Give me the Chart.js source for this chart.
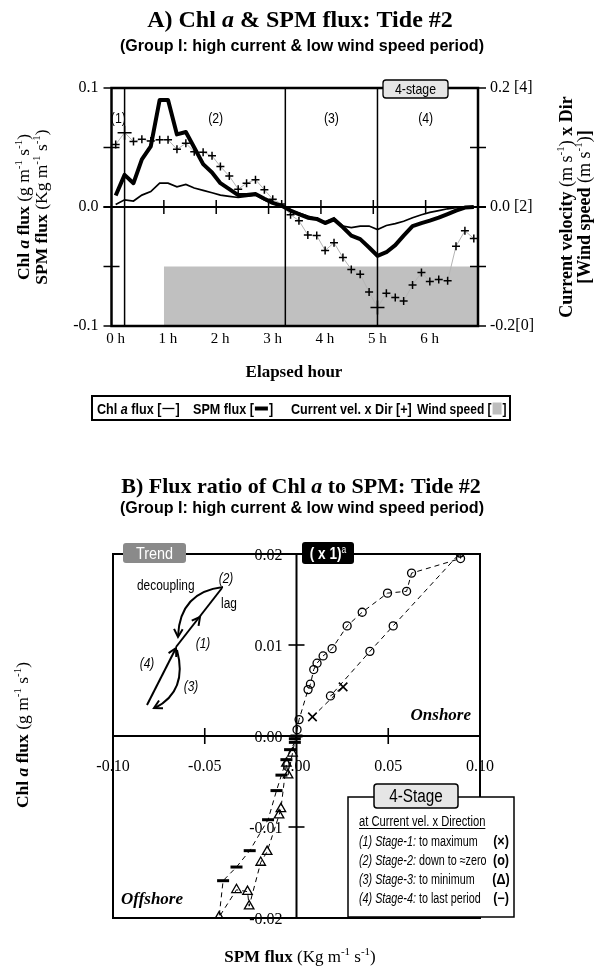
<!DOCTYPE html>
<html>
<head>
<meta charset="utf-8">
<script src="https://cdn.jsdelivr.net/npm/chart.js"></script>
<style>
html,body{margin:0;padding:0;background:#fff;}
#wrap{position:relative;width:602px;height:975px;background:#fff;}
canvas{position:absolute;left:0;}
</style>
</head>
<body>
<div id="wrap">
<canvas id="ca" width="602" height="430" style="top:0;width:602px;height:430px"></canvas>
<canvas id="cb" width="602" height="545" style="top:430px;width:602px;height:545px"></canvas>
</div>
<script>
// ---------------- DATA: panel A (time series, 10-min steps) ----------------
const hours = [0.08,0.25,0.42,0.58,0.75,0.92,1.08,1.25,1.42,1.58,1.75,1.92,2.08,2.25,2.42,2.58,2.75,2.92,3.08,3.25,
               3.42,3.58,3.75,3.92,4.08,4.25,4.42,4.58,4.75,4.92,5.08,5.25,5.42,5.58,5.75,5.92,6.08,6.25,6.42,6.58,6.75,6.92];
const spmFlux = [0.0096,0.027,0.020,0.040,0.051,0.090,0.090,0.061,0.063,0.050,0.036,0.029,0.020,0.015,0.010,0.010,0.011,0.007,0.0035,0.001,
                 -0.003,-0.006,-0.009,-0.010,-0.0135,-0.0105,-0.017,-0.024,-0.027,-0.034,-0.041,-0.038,-0.032,-0.024,-0.016,-0.0135,-0.0115,-0.009,-0.006,-0.003,-0.0005,0];
const chlFlux = [0.002,0.006,0.005,0.010,0.013,0.020,0.020,0.017,0.019,0.016,0.014,0.012,0.010,0.009,0.008,0.009,0.010,0.006,0.003,0.001,
                 -0.003,-0.005,-0.0077,-0.010,-0.0125,-0.009,-0.016,-0.0174,-0.016,-0.016,-0.019,-0.0155,-0.014,-0.012,-0.009,-0.0065,-0.0045,-0.003,-0.0015,-0.0005,0,0];
const curVelDir = [0.105,0.125,0.110,0.114,0.111,0.113,0.113,0.097,0.107,0.093,0.092,0.086,0.068,0.052,0.030,0.040,0.046,0.029,0.013,0.005,
                   -0.013,-0.023,-0.047,-0.048,-0.073,-0.060,-0.085,-0.105,-0.113,-0.143,-0.169,-0.145,-0.152,-0.158,-0.131,-0.110,-0.125,-0.122,-0.124,-0.066,-0.040,-0.053];
const bigCross = [1, 30];                 // max / min of current vel. x Dir
const windHours = [1, 7];
const windSpeed = [1, 1];                 // m s-1 (bracket scale [0]..[4])
const stageLines = [0.25, 3.32, 5.08];    // stage boundaries (h)
const stageLabels = ['(1)', '(2)', '(3)', '(4)'];
const stageLabelHours = [0.13, 1.99, 4.2, 6.0];
const hourTicks = [0, 1, 2, 3, 4, 5, 6];
const hourLabels = ['0 h', '1 h', '2 h', '3 h', '4 h', '5 h', '6 h'];
const leftTicks = [-0.1, 0, 0.1];
const leftLabels = ['-0.1', '0.0', '0.1'];
const rightTicks = [-0.2, 0, 0.2];
const rightLabels = ['-0.2[0]', '0.0 [2]', '0.2 [4]'];

// ---------------- DATA: panel B (Chl a flux vs SPM flux) ----------------
const stage1Spm = [0.0087, 0.0254];
const stage1Chl = [0.0021, 0.0054];
const stage2Spm = [0.0185,0.040,0.0527,0.0891,0.0894,0.0627,0.060,0.0496,0.0358,0.0276,0.0194,0.0145,0.0112,0.0094,0.0076,0.0063,0.0014,0.0003];
const stage2Chl = [0.0044,0.0093,0.0121,0.0201,0.0195,0.0179,0.0159,0.0157,0.0136,0.0121,0.0096,0.0088,0.0080,0.0073,0.0057,0.0051,0.0018,0.0007];
const stage3Spm = [-0.0022,-0.0046,-0.0055,-0.0085,-0.0095,-0.016,-0.0195,-0.0258,-0.0267,-0.0327,-0.0422];
const stage3Chl = [-0.0019,-0.0043,-0.0030,-0.0080,-0.0087,-0.0127,-0.0139,-0.0187,-0.0171,-0.0169,-0.0199];
const stage4Spm = [-0.040,-0.0327,-0.0255,-0.0155,-0.0109,-0.0082,-0.0055,-0.0035,-0.0009,-0.0009,0];
const stage4Chl = [-0.0159,-0.0144,-0.0126,-0.0092,-0.0060,-0.0043,-0.0026,-0.0015,-0.0007,-0.0003,0];
const xTicksB = [-0.10, -0.05, 0, 0.05, 0.10];
const xLabelsB = ['-0.10', '-0.05', '0.00', '0.05', '0.10'];
const yTicksB = [0.02, 0.01, 0, -0.01, -0.02];
const yLabelsB = ['0.02', '0.01', '0.00', '-0.01', '-0.02'];

// ---------------- helpers ----------------
const SERIF = 'Liberation Serif', SANS = 'Liberation Sans';
const F = (st, sz, fam) => `${st} ${sz}px "${fam}"`;
function rich(ctx, runs, x, y, o = {}) {
  const align = o.align || 'center', rot = o.rot || 0;
  ctx.save();
  ctx.textBaseline = 'alphabetic'; ctx.textAlign = 'left';
  let w = 0;
  for (const r of runs) { ctx.font = r.f; w += ctx.measureText(r.t).width; }
  const sx = o.fitW ? o.fitW / w : (o.sx || 1);
  ctx.translate(x, y); if (rot) ctx.rotate(rot); ctx.scale(sx, 1);
  ctx.fillStyle = o.color || '#000';
  let cx = align === 'center' ? -w / 2 : align === 'right' ? -w : 0;
  for (const r of runs) { ctx.font = r.f; ctx.fillText(r.t, cx, r.dy || 0); cx += ctx.measureText(r.t).width; }
  ctx.restore();
  return w * sx;
}
function ln(ctx, x1, y1, x2, y2) { ctx.beginPath(); ctx.moveTo(x1, y1); ctx.lineTo(x2, y2); ctx.stroke(); }
function rrect(ctx, x, y, w, h, r, fill, stroke, lw) {
  ctx.beginPath();
  if (ctx.roundRect) ctx.roundRect(x, y, w, h, r); else ctx.rect(x, y, w, h);
  if (fill) { ctx.fillStyle = fill; ctx.fill(); }
  if (stroke) { ctx.strokeStyle = stroke; ctx.lineWidth = lw || 1; ctx.stroke(); }
}
function head(ctx, x, y, ang, len = 8, sp = 0.5) {
  ctx.beginPath();
  ctx.moveTo(x - len * Math.cos(ang - sp), y - len * Math.sin(ang - sp));
  ctx.lineTo(x, y);
  ctx.lineTo(x - len * Math.cos(ang + sp), y - len * Math.sin(ang + sp));
  ctx.stroke();
}
const sup = (sz) => ({ t: '-1', f: F('normal', Math.round(sz * 0.62), SERIF), dy: -sz * 0.42 });
function chlTitle(sz) {
  return [{ t: 'Chl ', f: F('bold', sz, SERIF) }, { t: 'a', f: F('italic bold', sz, SERIF) }, { t: ' flux ', f: F('bold', sz, SERIF) },
          { t: '(g m', f: F('normal', sz, SERIF) }, sup(sz), { t: ' s', f: F('normal', sz, SERIF) }, sup(sz), { t: ')', f: F('normal', sz, SERIF) }];
}
function spmTitle(sz) {
  return [{ t: 'SPM flux ', f: F('bold', sz, SERIF) },
          { t: '(Kg m', f: F('normal', sz, SERIF) }, sup(sz), { t: ' s', f: F('normal', sz, SERIF) }, sup(sz), { t: ')', f: F('normal', sz, SERIF) }];
}

Chart.defaults.font.family = SERIF;
Chart.defaults.color = '#000';
Chart.defaults.animation = false;

// ---------------- Chart A ----------------
const ptsA = arr => hours.map((h, i) => ({ x: h, y: arr[i] }));
const plugA = {
  id: 'plugA',
  afterDatasetsDraw(chart) {
    const { ctx, chartArea: a, scales: { x, y, y2 } } = chart;
    ctx.save(); ctx.strokeStyle = '#000';
    ctx.lineWidth = 1.5;
    stageLines.forEach(h => { const px = x.getPixelForValue(h); ln(ctx, px, a.top, px, a.bottom); });
    const y0 = y.getPixelForValue(0);
    ctx.lineWidth = 2; ln(ctx, a.left - 8, y0, a.right + 8, y0);
    ctx.lineWidth = 1.5;
    hourTicks.slice(1).forEach(h => { const px = x.getPixelForValue(h); ln(ctx, px, y0 - 7, px, y0 + 7); });
    [-0.1, -0.05, 0, 0.05, 0.1].forEach(v => { const py = y.getPixelForValue(v); ln(ctx, a.left - 8, py, a.left + 8, py); });
    [-0.2, -0.1, 0, 0.1, 0.2].forEach(v => { const py = y2.getPixelForValue(v); ln(ctx, a.right - 8, py, a.right + 8, py); });
    ctx.lineWidth = 2.5;
    ctx.strokeRect(a.left, a.top, a.right - a.left, a.bottom - a.top);
    // stage labels
    stageLabels.forEach((s, i) => rich(ctx, [{ t: s, f: F('normal', 15, SANS) }], x.getPixelForValue(stageLabelHours[i]), y.getPixelForValue(0.075) + 5, { sx: 0.82 }));
    // 4-stage box
    rrect(ctx, 383, 80, 65, 18, 3, '#e6e6e6', '#000', 1.3);
    rich(ctx, [{ t: '4-stage', f: F('normal', 15, SANS) }], 415.5, 94, { sx: 0.82 });
    ctx.restore();
  },
  afterDraw(chart) {
    const { ctx } = chart;
    ctx.save();
    rich(ctx, [{ t: 'A) Chl ', f: F('bold', 24, SERIF) }, { t: 'a', f: F('italic bold', 24, SERIF) }, { t: ' & SPM flux: Tide #2', f: F('bold', 24, SERIF) }], 300, 27);
    rich(ctx, [{ t: '(Group I: high current & low wind speed period)', f: F('bold', 16, SANS) }], 302, 51, { fitW: 364 });
    rich(ctx, chlTitle(17.5), 29, 207, { rot: -Math.PI / 2 });
    rich(ctx, spmTitle(17.5), 47, 207, { rot: -Math.PI / 2 });
    rich(ctx, [{ t: 'Current velocity ', f: F('bold', 18, SERIF) }, { t: '(m s', f: F('normal', 18, SERIF) }, sup(18), { t: ') ', f: F('normal', 18, SERIF) }, { t: 'x Dir', f: F('bold', 18, SERIF) }], 572, 207, { rot: -Math.PI / 2 });
    rich(ctx, [{ t: '[Wind speed ', f: F('bold', 18, SERIF) }, { t: '(m s', f: F('normal', 18, SERIF) }, sup(18), { t: ')', f: F('normal', 18, SERIF) }, { t: ']', f: F('bold', 18, SERIF) }], 590, 207, { rot: -Math.PI / 2 });
    rich(ctx, [{ t: 'Elapsed hour', f: F('bold', 17, SERIF) }], 294, 377);
    // legend box
    ctx.strokeStyle = '#000'; ctx.lineWidth = 2;
    ctx.strokeRect(92, 396, 418, 24);
    const f = F('bold', 15, SANS), fi = F('italic bold', 15, SANS), o = { align: 'left', sx: 0.84 }, ly = 413.5;
    let lx = 97;
    lx += rich(ctx, [{ t: 'Chl ', f }, { t: 'a', f: fi }, { t: ' flux [', f }], lx, ly, o);
    ctx.lineWidth = 1.3; ln(ctx, lx + 1, ly - 5, lx + 13, ly - 5); lx += 14;
    rich(ctx, [{ t: ']', f }], lx, ly, o);
    lx = 193;
    lx += rich(ctx, [{ t: 'SPM flux [', f }], lx, ly, o);
    ctx.lineWidth = 4; ln(ctx, lx + 1, ly - 5, lx + 14, ly - 5); lx += 15;
    rich(ctx, [{ t: ']', f }], lx, ly, o);
    rich(ctx, [{ t: 'Current vel. x Dir [+]', f }], 291, ly, o);
    lx = 417;
    const ow = { align: 'left', sx: 0.8 };
    lx += rich(ctx, [{ t: 'Wind speed [', f }], lx, ly, ow);
    ctx.fillStyle = '#bdbdbd'; ctx.fillRect(lx + 1, ly - 11, 9, 12); lx += 11;
    rich(ctx, [{ t: ']', f }], lx, ly, ow);
    ctx.restore();
  }
};

new Chart(document.getElementById('ca'), {
  type: 'line',
  data: {
    datasets: [
      { label: 'SPM flux', data: ptsA(spmFlux), yAxisID: 'y', borderColor: '#000', borderWidth: 4, pointRadius: 0, order: 1, borderJoinStyle: 'round', tension: 0 },
      { label: 'Chl a flux', data: ptsA(chlFlux), yAxisID: 'y', borderColor: '#000', borderWidth: 1.7, pointRadius: 0, order: 2, tension: 0 },
      { label: 'Current vel. x Dir', data: ptsA(curVelDir), yAxisID: 'y2', borderColor: '#b4b4b4', borderWidth: 1, pointStyle: 'cross',
        pointRadius: hours.map((h, i) => bigCross.includes(i) ? 7 : 4), pointBorderColor: '#000', pointBorderWidth: 1.5, order: 3, tension: 0 },
      { label: 'Wind speed', data: windHours.map((h, i) => ({ x: h, y: (windSpeed[i] - 2) * 0.1 })), yAxisID: 'y2', fill: 'start',
        backgroundColor: '#c0c0c0', borderWidth: 0, pointRadius: 0, order: 4 }
    ]
  },
  options: {
    responsive: false, devicePixelRatio: 1, animation: false,
    layout: { padding: { top: 88, left: 0, right: 0, bottom: 0 } },
    plugins: { legend: { display: false }, tooltip: { enabled: false } },
    scales: {
      x: { type: 'linear', min: 0, max: 7, grid: { display: false, drawTicks: false }, border: { display: false },
           afterBuildTicks: s => { s.ticks = hourTicks.map(v => ({ value: v })); },
           afterFit: s => { s.height = 104; },
           ticks: { callback: (v, i) => hourLabels[i], font: { family: SERIF, size: 15 }, color: '#000', padding: 4, labelOffset: 4, maxRotation: 0, autoSkip: false } },
      y: { position: 'left', min: -0.1, max: 0.1, grid: { display: false, drawTicks: false }, border: { display: false },
           afterBuildTicks: s => { s.ticks = leftTicks.map(v => ({ value: v })); },
           afterFit: s => { s.width = 111.5; },
           ticks: { callback: (v, i) => leftLabels[i], font: { family: SERIF, size: 16 }, color: '#000', padding: 13 } },
      y2: { position: 'right', min: -0.2, max: 0.2, grid: { display: false, drawTicks: false }, border: { display: false },
            afterBuildTicks: s => { s.ticks = rightTicks.map(v => ({ value: v })); },
            afterFit: s => { s.width = 124; },
            ticks: { callback: (v, i) => rightLabels[i], font: { family: SERIF, size: 16 }, color: '#000', padding: 12 } }
    }
  },
  plugins: [plugA]
});

// ---------------- Chart B ----------------
const pairs = (xs, ys) => xs.map((v, i) => ({ x: v, y: ys[i] }));
const pathB = [...pairs(stage1Spm, stage1Chl), ...pairs(stage2Spm, stage2Chl), ...pairs(stage3Spm, stage3Chl), ...pairs(stage4Spm, stage4Chl)];
const OFF = 430;
const plugB = {
  id: 'plugB',
  beforeDatasetsDraw(chart) {
    const { ctx, chartArea: a, scales: { x, y } } = chart;
    ctx.save(); ctx.strokeStyle = '#000';
    const x0 = x.getPixelForValue(0), y0 = y.getPixelForValue(0);
    ctx.lineWidth = 2;
    ctx.strokeRect(a.left, a.top, a.right - a.left, a.bottom - a.top);
    ln(ctx, a.left, y0, a.right, y0);
    ln(ctx, x0, a.top, x0, a.bottom);
    ctx.lineWidth = 1.6;
    [-0.05, 0.05].forEach(v => { const px = x.getPixelForValue(v); ln(ctx, px, y0 - 8, px, y0 + 8); });
    [-0.01, 0.01].forEach(v => { const py = y.getPixelForValue(v); ln(ctx, x0 - 8, py, x0 + 8, py); });
    ctx.fillStyle = '#000';
    xTicksB.forEach((v, i) => rich(ctx, [{ t: xLabelsB[i], f: F('normal', 16, SERIF) }], x.getPixelForValue(v), y0 + 35));
    yTicksB.forEach((v, i) => rich(ctx, [{ t: yLabelsB[i], f: F('normal', 16, SERIF) }], x0 - 14, y.getPixelForValue(v) + 5.5, { align: 'right' }));
    ctx.restore();
  },
  afterDraw(chart) {
    const { ctx } = chart;
    ctx.save(); ctx.translate(0, -OFF); ctx.strokeStyle = '#000'; ctx.fillStyle = '#000';
    rich(ctx, [{ t: 'B) Flux ratio of Chl ', f: F('bold', 22, SERIF) }, { t: 'a', f: F('italic bold', 22, SERIF) }, { t: ' to SPM: Tide #2', f: F('bold', 22, SERIF) }], 301, 493);
    rich(ctx, [{ t: '(Group I: high current & low wind speed period)', f: F('bold', 16, SANS) }], 302, 513, { fitW: 364 });
    rich(ctx, chlTitle(17.5), 28, 735, { rot: -Math.PI / 2 });
    rich(ctx, spmTitle(17), 300, 962);
    // Trend box
    rrect(ctx, 123, 543, 63, 20, 3, '#8a8a8a', null);
    rich(ctx, [{ t: 'Trend', f: F('normal', 17, SANS) }], 154.5, 559, { sx: 0.85, color: '#fff' });
    // (x 1)a box
    rrect(ctx, 302, 542, 52, 22, 3, '#000', null);
    rich(ctx, [{ t: '( x 1)', f: F('bold', 16, SANS) }, { t: 'a', f: F('normal', 10, SANS), dy: -6 }], 328, 559, { sx: 0.85, color: '#fff' });
    // trend diagram
    const ft = F('normal', 14, SANS), fit = F('italic', 14, SANS);
    rich(ctx, [{ t: 'decoupling', f: ft }], 137, 590, { align: 'left', sx: 0.85 });
    rich(ctx, [{ t: '(2)', f: fit }], 226, 583, { sx: 0.85 });
    rich(ctx, [{ t: 'lag', f: ft }], 221, 608, { align: 'left', sx: 0.85 });
    rich(ctx, [{ t: '(1)', f: fit }], 203, 648, { sx: 0.85 });
    rich(ctx, [{ t: '(4)', f: fit }], 147, 668, { sx: 0.85 });
    rich(ctx, [{ t: '(3)', f: fit }], 191, 691, { sx: 0.85 });
    ctx.lineWidth = 2;
    ctx.beginPath(); ctx.moveTo(223, 587); ctx.quadraticCurveTo(180, 592, 178, 636); ctx.stroke();
    head(ctx, 178, 637, Math.atan2(636 - 592, 178 - 180), 9);
    ln(ctx, 176, 647, 222, 588);
    head(ctx, 200, 617, Math.atan2(588 - 647, 222 - 176), 9);
    ln(ctx, 147, 705, 176, 648);
    head(ctx, 176, 648, Math.atan2(648 - 705, 176 - 147), 9);
    ctx.beginPath(); ctx.moveTo(177, 650); ctx.quadraticCurveTo(188, 691, 155, 708); ctx.stroke();
    head(ctx, 154, 708, Math.atan2(708 - 691, 155 - 188), 9);
    // quadrant labels
    rich(ctx, [{ t: 'Onshore', f: F('italic bold', 17, SERIF) }], 471, 720, { align: 'right' });
    rich(ctx, [{ t: 'Offshore', f: F('italic bold', 17, SERIF) }], 121, 904, { align: 'left' });
    // legend
    ctx.fillStyle = '#fff'; ctx.fillRect(348, 797, 166, 120);
    ctx.lineWidth = 1.5; ctx.strokeStyle = '#000'; ctx.strokeRect(348, 797, 166, 120);
    rrect(ctx, 374, 784, 84, 24, 3, '#e6e6e6', '#000', 1.5);
    rich(ctx, [{ t: '4-Stage', f: F('normal', 18, SANS) }], 416, 802, { sx: 0.85 });
    const fr = F('normal', 14, SANS), fil = F('italic', 14, SANS), fb = F('bold', 14, SANS), lo = { align: 'left', sx: 0.77 };
    const hw = rich(ctx, [{ t: 'at Current vel. x Direction', f: fr }], 359, 826, { align: 'left', sx: 0.8 });
    ctx.lineWidth = 1; ln(ctx, 359, 828.5, 359 + hw, 828.5);
    const rows = [['(1) Stage-1:', ' to maximum', '(×)'], ['(2) Stage-2:', ' down to ≈zero', '(o)'], ['(3) Stage-3:', ' to minimum', '(Δ)'], ['(4) Stage-4:', ' to last period', '(−)']];
    const rowY = [846, 865, 884, 903];
    rows.forEach((r, i) => {
      rich(ctx, [{ t: r[0], f: fil }, { t: r[1], f: fr }], 359, rowY[i], lo);
      rich(ctx, [{ t: r[2], f: fb }], 501, rowY[i], { sx: 0.9 });
    });
    ctx.restore();
  }
};

new Chart(document.getElementById('cb'), {
  type: 'scatter',
  data: {
    datasets: [
      { label: 'path', data: pathB, showLine: true, borderColor: '#000', borderWidth: 1, borderDash: [5, 4], pointRadius: 0, order: 5 },
      { label: 'Stage-1', data: pairs(stage1Spm, stage1Chl), pointStyle: 'crossRot', pointRadius: 6, borderColor: '#000', pointBorderWidth: 1.6, backgroundColor: 'rgba(0,0,0,0)', order: 1 },
      { label: 'Stage-2', data: pairs(stage2Spm, stage2Chl), pointStyle: 'circle', pointRadius: 4, borderColor: '#000', pointBorderWidth: 1.3, backgroundColor: 'rgba(0,0,0,0)', order: 2 },
      { label: 'Stage-3', data: pairs(stage3Spm, stage3Chl), pointStyle: 'triangle', pointRadius: 5.5, borderColor: '#000', pointBorderWidth: 1.3, backgroundColor: 'rgba(0,0,0,0)', order: 3 },
      { label: 'Stage-4', data: pairs(stage4Spm, stage4Chl), pointStyle: 'line', pointRadius: 6, borderColor: '#000', pointBorderWidth: 3, backgroundColor: 'rgba(0,0,0,0)', order: 4 }
    ]
  },
  options: {
    responsive: false, devicePixelRatio: 1, animation: false,
    layout: { padding: { left: 113, right: 122, top: 124, bottom: 57 } },
    plugins: { legend: { display: false }, tooltip: { enabled: false } },
    scales: {
      x: { type: 'linear', min: -0.1, max: 0.1, display: false },
      y: { type: 'linear', min: -0.02, max: 0.02, display: false }
    }
  },
  plugins: [plugB]
});
</script>
</body>
</html>
